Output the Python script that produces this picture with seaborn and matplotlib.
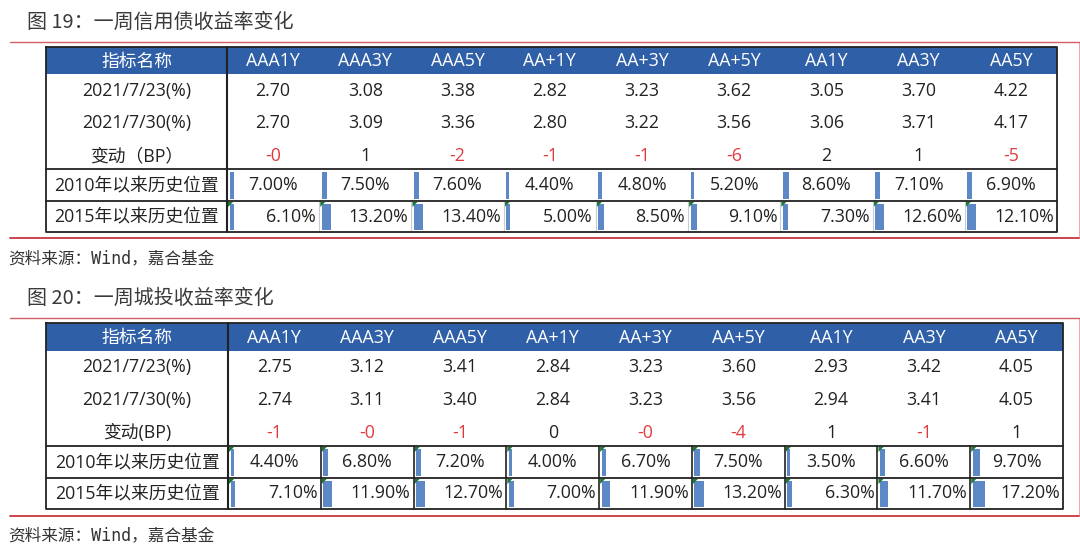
import matplotlib
matplotlib.use("Agg")
import matplotlib.pyplot as plt
import seaborn as sns

# 数据
cols = ['AAA1Y', 'AAA3Y', 'AAA5Y', 'AA+1Y', 'AA+3Y', 'AA+5Y', 'AA1Y', 'AA3Y', 'AA5Y']

credit_0723 = [2.70, 3.08, 3.38, 2.82, 3.23, 3.62, 3.05, 3.70, 4.22]
credit_0730 = [2.70, 3.09, 3.36, 2.80, 3.22, 3.56, 3.06, 3.71, 4.17]
credit_bp = ['-0', '1', '-2', '-1', '-1', '-6', '2', '1', '-5']
credit_pos2010 = [7.00, 7.50, 7.60, 4.40, 4.80, 5.20, 8.60, 7.10, 6.90]
credit_pos2015 = [6.10, 13.20, 13.40, 5.00, 8.50, 9.10, 7.30, 12.60, 12.10]

city_0723 = [2.75, 3.12, 3.41, 2.84, 3.23, 3.60, 2.93, 3.42, 4.05]
city_0730 = [2.74, 3.11, 3.40, 2.84, 3.23, 3.56, 2.94, 3.41, 4.05]
city_bp = ['-1', '-0', '-1', '0', '-0', '-4', '1', '-1', '1']
city_pos2010 = [4.40, 6.80, 7.20, 4.00, 6.70, 7.50, 3.50, 6.60, 9.70]
city_pos2015 = [7.10, 11.90, 12.70, 7.00, 11.90, 13.20, 6.30, 11.70, 17.20]

labels1 = ['2021/7/23(%)', '2021/7/30(%)', '变动（BP）', '2010年以来历史位置', '2015年以来历史位置']
labels2 = ['2021/7/23(%)', '2021/7/30(%)', '变动(BP)', '2010年以来历史位置', '2015年以来历史位置']

sns.set_theme(style='white')
plt.rcParams['font.family'] = ['Open Sans', 'Noto Sans CJK SC', 'DejaVu Sans']

HEAD_BLUE = '#2F5FA7'
BAR_BLUE = '#5C88C6'
NEG_RED = '#E03A3E'
LINE_RED = '#C9353D'
TXT = '#222222'
FS = 12.8

fig = plt.figure(figsize=(10.8, 5.47), dpi=100)
ax = fig.add_axes([0, 0, 1, 1])
ax.set_xlim(0, 1080)
ax.set_ylim(547, 0)
ax.axis('off')


def draw_table(title, title_y, red_top, left, div, right, top, head_bot, mids, r4, r5, bottom,
               red_bot, src_y, labels, y1, y2, bp, p10, p15, tri10, grid10, grid15_col):
    ax.text(27, title_y, title, fontsize=14.4, color='#3a3a3a', va='center', ha='left',
            fontweight='medium', family=['Noto Sans CJK SC', 'DejaVu Sans'])
    ax.plot([10, 1079], [red_top, red_top], color=LINE_RED, lw=1.0, alpha=0.8)
    ax.plot([1079, 1079], [red_top, red_bot], color=LINE_RED, lw=0.6, alpha=0.5)
    ax.plot([10, 1079], [red_bot, red_bot], color=LINE_RED, lw=1.3)

    cw = (right - div) / len(cols)
    # 表头
    ax.fill_between([left, right], top, head_bot, color=HEAD_BLUE, lw=0)
    ax.text((left + div) / 2, (top + head_bot) / 2 + 1, '指标名称', color='white', fontsize=FS,
            ha='center', va='center')
    for i, c in enumerate(cols):
        cx = div + cw * (i + 0.5)
        ax.text(cx, (top + head_bot) / 2 + 1, c, color='white', fontsize=FS, ha='center', va='center')

    # 行标签
    ys = mids + [(r4 + r5) / 2, (r5 + bottom) / 2]
    for lab, yy in zip(labels, ys):
        ax.text((left + div) / 2, yy, lab, color=TXT, fontsize=FS, ha='center', va='center')

    for i in range(len(cols)):
        x0 = div + cw * i
        cx = x0 + cw / 2
        ax.text(cx, ys[0], f'{y1[i]:.2f}', color=TXT, fontsize=FS, ha='center', va='center')
        ax.text(cx, ys[1], f'{y2[i]:.2f}', color=TXT, fontsize=FS, ha='center', va='center')
        ax.text(cx, ys[2], bp[i], color=NEG_RED if bp[i].startswith('-') else TXT,
                fontsize=FS, ha='center', va='center')
        # 数据条
        ax.barh(ys[3], p10[i] * 0.7, left=x0 + 2.5, height=(r5 - r4) - 5, color=BAR_BLUE, lw=0)
        ax.barh(ys[4], p15[i] * 0.7, left=x0 + 2.5, height=(bottom - r5) - 5, color=BAR_BLUE, lw=0)
        ax.text(cx, ys[3], f'{p10[i]:.2f}%', color=TXT, fontsize=FS, ha='center', va='center')
        ax.text(x0 + cw - 3, ys[4], f'{p15[i]:.2f}%', color=TXT, fontsize=FS, ha='right', va='center')
        # 绿色小三角
        for yt, show in [(r4, tri10), (r5, True)]:
            if show:
                ax.fill([x0 + 1, x0 + 6, x0 + 1], [yt + 1, yt + 1, yt + 6], color='#1B7A2F', lw=0)
        if i > 0:
            if grid10:
                ax.plot([x0, x0], [r4, r5], color=TXT, lw=1.2)
            ax.plot([x0, x0], [r5, bottom], color=grid15_col, lw=1.2 if grid10 else 0.8)

    # 框线
    ax.plot([left, right, right, left, left], [top, top, bottom, bottom, top], color=TXT, lw=1.3)
    ax.plot([div, div], [top, bottom], color=TXT, lw=1.5)
    ax.plot([left, right], [r4, r4], color=TXT, lw=1.3)
    ax.plot([left, right], [r5, r5], color=TXT, lw=1.3)

    ax.text(8, src_y, '资料来源：Wind，嘉合基金', fontsize=12, color='#333333', ha='left', va='center',
            family=['DejaVu Sans Mono', 'Noto Sans CJK SC'])


draw_table('图 19：一周信用债收益率变化', 22, 42, 46, 227, 1057, 47, 74, [91, 123, 156],
           169, 201, 232, 238, 258, labels1, credit_0723, credit_0730, credit_bp,
           credit_pos2010, credit_pos2015, False, False, '#C5CDD8')
draw_table('图 20：一周城投收益率变化', 298, 318, 46, 228, 1063, 323, 351, [367, 400, 433],
           446, 478, 509, 516, 535, labels2, city_0723, city_0730, city_bp,
           city_pos2010, city_pos2015, True, True, TXT)

fig.savefig('out.png', dpi=100, facecolor='white')
